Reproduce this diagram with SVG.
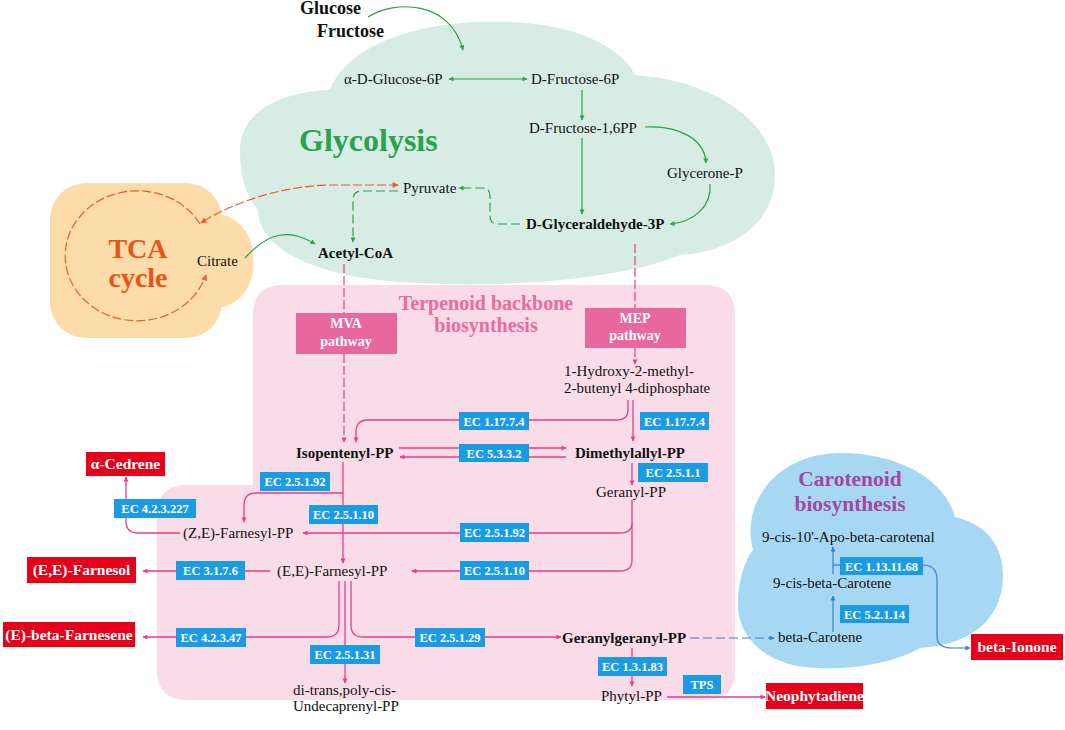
<svg xmlns="http://www.w3.org/2000/svg" width="1065" height="730" viewBox="0 0 1065 730">
<defs>
<style>
text{font-family:"Liberation Serif","Times New Roman",serif;fill:#111;}
.n{font-size:15px;}
.nb{font-size:15px;font-weight:bold;}
.ec{fill:#1b9be3;}
.ect{font-size:12.5px;font-weight:bold;fill:#fff;text-anchor:middle;}
.red{fill:#e60019;}
.redt{font-size:15.5px;font-weight:bold;fill:#fff;text-anchor:middle;}
.pw{fill:#e8679f;}
.pwt{font-size:14px;font-weight:bold;fill:#fff;text-anchor:middle;}
.p{stroke:#e63e8e;fill:none;stroke-width:1.3;}
.pd{stroke:#e63e8e;fill:none;stroke-width:1.2;stroke-dasharray:9 3;}
.g{stroke:#2ba24c;fill:none;stroke-width:1.2;}
.gd{stroke:#2ba24c;fill:none;stroke-width:1.2;stroke-dasharray:9 4;}
.od{stroke:#ef5b2b;fill:none;stroke-width:1.2;stroke-dasharray:9 3;}
.b{stroke:#3a7fcf;fill:none;stroke-width:1.2;}
.bd{stroke:#3a7fcf;fill:none;stroke-width:1.2;stroke-dasharray:9 4;}
</style>
<marker id="ap" viewBox="0 0 10 10" refX="9" refY="5" markerWidth="6" markerHeight="5" markerUnits="userSpaceOnUse" orient="auto-start-reverse"><path d="M0,0 L10,5 L0,10 z" fill="#e63e8e"/></marker>
<marker id="ag" viewBox="0 0 10 10" refX="9" refY="5" markerWidth="6" markerHeight="5" markerUnits="userSpaceOnUse" orient="auto-start-reverse"><path d="M0,0 L10,5 L0,10 z" fill="#2ba24c"/></marker>
<marker id="ao" viewBox="0 0 10 10" refX="9" refY="5" markerWidth="7" markerHeight="6" markerUnits="userSpaceOnUse" orient="auto-start-reverse"><path d="M0,0 L10,5 L0,10 z" fill="#ef5b2b"/></marker>
<marker id="ab" viewBox="0 0 10 10" refX="9" refY="5" markerWidth="6" markerHeight="5" markerUnits="userSpaceOnUse" orient="auto-start-reverse"><path d="M0,0 L10,5 L0,10 z" fill="#3a7fcf"/></marker>
</defs>
<rect width="1065" height="730" fill="#fff"/>

<!-- Background regions -->
<g id="glycolysis-region">
<path d="M240,150 C240,115 275,92 330,90 C350,40 430,20 500,22 C570,22 620,45 635,75 C710,80 775,120 775,175 C775,225 730,252 680,255 C620,280 500,288 420,283 C320,280 258,250 258,210 C245,195 240,175 240,150 Z" fill="#d6ece4"/>
<text x="299" y="151" style="font-size:32px;font-weight:bold;fill:#2ba24c">Glycolysis</text>
</g>
<g id="tca-region">
<rect x="50" y="183" width="172" height="155" rx="36" fill="#fcdca8"/>
<rect x="170" y="213" width="83" height="96" rx="42" fill="#fcdca8"/>
<text x="138" y="258" text-anchor="middle" style="font-size:28px;font-weight:bold;fill:#e8541c">TCA</text>
<text x="138" y="287" text-anchor="middle" style="font-size:28px;font-weight:bold;fill:#e8541c">cycle</text>
</g>
<g id="terpenoid-region">
<path d="M283,285 L705,285 Q735,285 735,315 L735,670 Q735,700 705,700 L187,700 Q157,700 157,670 L157,515 Q157,485 187,485 L253,485 L253,315 Q253,285 283,285 Z" fill="#f9dce8"/>
<text x="486" y="310" text-anchor="middle" style="font-size:20px;font-weight:bold;fill:#ea6aa1">Terpenoid backbone</text>
<text x="486" y="332" text-anchor="middle" style="font-size:20px;font-weight:bold;fill:#ea6aa1">biosynthesis</text>
</g>
<g id="carotenoid-region">
<path d="M753,550 C740,500 780,453 840,453 C900,453 945,480 955,517 C990,525 1003,550 1003,575 C1003,620 970,645 920,648 C900,660 860,670 820,668 C770,668 738,640 738,605 C738,580 745,560 753,550 Z" fill="#a6d8f4"/>
<text x="850" y="486" text-anchor="middle" style="font-size:21.5px;font-weight:bold;fill:#a3489f">Carotenoid</text>
<text x="850" y="511" text-anchor="middle" style="font-size:21.5px;font-weight:bold;fill:#a3489f">biosynthesis</text>
</g>

<!-- Connectors -->
<g id="connectors">
<path class="g" d="M368,17 C395,0 450,0 463,50" marker-end="url(#ag)"/>
<path class="g" d="M449,79 L527,79" marker-start="url(#ag)" marker-end="url(#ag)"/>
<path class="g" d="M582,90 L582,120" marker-end="url(#ag)"/>
<path class="g" d="M582,138 L582,214" marker-end="url(#ag)"/>
<path class="g" d="M645,127 C680,125 705,140 706,163" marker-end="url(#ag)"/>
<path class="g" d="M710,184 C712,205 695,222 670,224" marker-end="url(#ag)"/>
<path class="gd" d="M520,224 L498,224 Q490,224 490,216 L490,196 Q490,188 482,188 L459,188" marker-end="url(#ag)"/>
<path class="gd" d="M398,191 L362,191 Q353,191 353,200 L353,242" marker-end="url(#ag)"/>
<path class="g" d="M245,258 C268,232 290,228 315,244" marker-end="url(#ag)"/>
<path class="od" d="M398,185 L330,185 C280,186 232,203 201,223" marker-start="url(#ao)" marker-end="url(#ao)"/>
<path class="od" d="M200,224 A72,65 0 1 0 206,275" marker-end="url(#ao)"/>

<path class="pd" d="M344,264 L344,313"/>
<path class="pd" d="M344,354 L344,442" marker-end="url(#ap)"/>
<path class="pd" d="M635,244 L635,308"/>
<path class="pd" d="M635,348 L635,364" marker-end="url(#ap)"/>

<path class="p" d="M628,400 L628,410 Q628,420 616,420 L368,420 Q356,420 356,432 L356,442" marker-end="url(#ap)"/>
<path class="p" d="M633,400 L633,441" marker-end="url(#ap)"/>
<path class="p" d="M399,448 L566,448" marker-end="url(#ap)"/>
<path class="p" d="M566,457 L400,457" marker-end="url(#ap)"/>
<path class="p" d="M632,463 L632,485" marker-end="url(#ap)"/>
<path class="p" d="M632,500 L632,523 Q632,533 620,533 L303,533" marker-end="url(#ap)"/>
<path class="p" d="M632,523 L632,560 Q632,571 620,571 L412,571" marker-end="url(#ap)"/>
<path class="p" d="M343,462 L343,563" marker-end="url(#ap)"/>
<path class="p" d="M343,493 L256,493 Q244,493 244,505 L244,522" marker-end="url(#ap)"/>
<path class="p" d="M180,533 L138,533 Q126,533 126,521 L126,477" marker-end="url(#ap)"/>
<path class="p" d="M270,571 L143,571" marker-end="url(#ap)"/>
<path class="p" d="M339,581 L339,625 Q339,637 327,637 L143,637" marker-end="url(#ap)"/>
<path class="p" d="M345,581 L345,683" marker-end="url(#ap)"/>
<path class="p" d="M351,581 L351,625 Q351,637 363,637 L561,637" marker-end="url(#ap)"/>
<path class="p" d="M632,648 L632,686" marker-end="url(#ap)"/>
<path class="p" d="M667,697 L765,697" marker-end="url(#ap)"/>
<path class="bd" d="M690,638 L774,638" marker-end="url(#ab)"/>
<path class="b" d="M833,632 L833,596" marker-end="url(#ab)"/>
<path class="b" d="M833,574 L833,547" marker-end="url(#ab)"/>
<path class="b" d="M833,565 L840,565"/>
<path class="b" d="M923,565 Q937,565 937,580 L937,636 Q937,648 952,648 L970,648" marker-end="url(#ab)"/>
</g>

<!-- Nodes -->
<g id="n-glucose"><text x="300" y="14" style="font-size:18px;font-weight:bold">Glucose</text></g>
<g id="n-fructose"><text x="317" y="37" style="font-size:18px;font-weight:bold">Fructose</text></g>
<g id="n-g6p"><text class="n" x="344" y="84">α-D-Glucose-6P</text></g>
<g id="n-f6p"><text class="n" x="531" y="84">D-Fructose-6P</text></g>
<g id="n-f16pp"><text class="n" x="529" y="133">D-Fructose-1,6PP</text></g>
<g id="n-glycerone"><text class="n" x="667" y="178">Glycerone-P</text></g>
<g id="n-pyruvate"><text class="n" x="403" y="193">Pyruvate</text></g>
<g id="n-gap"><text class="nb" x="526" y="229">D-Glyceraldehyde-3P</text></g>
<g id="n-acetylcoa"><text class="nb" x="318" y="258">Acetyl-CoA</text></g>
<g id="n-citrate"><text class="n" x="197" y="266">Citrate</text></g>

<g id="n-mva"><rect class="pw" x="296" y="313" width="101" height="41"/><text class="pwt" x="346" y="328">MVA</text><text class="pwt" x="346" y="346">pathway</text></g>
<g id="n-mep"><rect class="pw" x="585" y="308" width="101" height="40"/><text class="pwt" x="635" y="323">MEP</text><text class="pwt" x="635" y="340">pathway</text></g>
<g id="n-hmbpp"><text class="n" x="564" y="376">1-Hydroxy-2-methyl-</text><text class="n" x="564" y="393">2-butenyl 4-diphosphate</text></g>
<g id="n-ipp"><text class="nb" x="296" y="458">Isopentenyl-PP</text></g>
<g id="n-dmapp"><text class="nb" x="575" y="458">Dimethylallyl-PP</text></g>
<g id="n-gpp"><text class="n" x="596" y="497">Geranyl-PP</text></g>
<g id="n-zefpp"><text class="n" x="183" y="538">(Z,E)-Farnesyl-PP</text></g>
<g id="n-eefpp"><text class="n" x="277" y="576">(E,E)-Farnesyl-PP</text></g>
<g id="n-ggpp"><text class="nb" x="562" y="643">Geranylgeranyl-PP</text></g>
<g id="n-undeca"><text class="n" x="293" y="695">di-trans,poly-cis-</text><text class="n" x="293" y="711">Undecaprenyl-PP</text></g>
<g id="n-phytyl"><text class="n" x="601" y="701">Phytyl-PP</text></g>

<g id="n-apo"><text class="n" x="762" y="542">9-cis-10'-Apo-beta-carotenal</text></g>
<g id="n-9cis"><text class="n" x="773" y="588">9-cis-beta-Carotene</text></g>
<g id="n-bcar"><text class="n" x="778" y="642">beta-Carotene</text></g>

<g id="p-cedrene"><rect class="red" x="86" y="452" width="79" height="24"/><text class="redt" x="125.5" y="469">α-Cedrene</text></g>
<g id="p-farnesol"><rect class="red" x="27" y="557" width="109" height="26"/><text class="redt" x="81.5" y="575">(E,E)-Farnesol</text></g>
<g id="p-farnesene"><rect class="red" x="3" y="622" width="132" height="25"/><text class="redt" x="69" y="640">(E)-beta-Farnesene</text></g>
<g id="p-neophytadiene"><rect class="red" x="766" y="683" width="97" height="26"/><text class="redt" x="814.5" y="701">Neophytadiene</text></g>
<g id="p-ionone"><rect class="red" x="971" y="634" width="92" height="26"/><text class="redt" x="1017" y="652">beta-Ionone</text></g>

<g id="ec1"><rect class="ec" x="459" y="412" width="70" height="18"/><text class="ect" x="494" y="425.5">EC 1.17.7.4</text></g>
<g id="ec2"><rect class="ec" x="640" y="412" width="69" height="18"/><text class="ect" x="674.5" y="425.5">EC 1.17.7.4</text></g>
<g id="ec3"><rect class="ec" x="459" y="444" width="70" height="18"/><text class="ect" x="494" y="457.5">EC 5.3.3.2</text></g>
<g id="ec4"><rect class="ec" x="638" y="463" width="70" height="19"/><text class="ect" x="673" y="477">EC 2.5.1.1</text></g>
<g id="ec5"><rect class="ec" x="260" y="472" width="70" height="19"/><text class="ect" x="295" y="486">EC 2.5.1.92</text></g>
<g id="ec6"><rect class="ec" x="309" y="505" width="69" height="19"/><text class="ect" x="343.5" y="519">EC 2.5.1.10</text></g>
<g id="ec7"><rect class="ec" x="114" y="499" width="82" height="19"/><text class="ect" x="155" y="513">EC 4.2.3.227</text></g>
<g id="ec8"><rect class="ec" x="460" y="523" width="69" height="19"/><text class="ect" x="494.5" y="537">EC 2.5.1.92</text></g>
<g id="ec9"><rect class="ec" x="460" y="561" width="69" height="19"/><text class="ect" x="494.5" y="575">EC 2.5.1.10</text></g>
<g id="ec10"><rect class="ec" x="176" y="561" width="69" height="19"/><text class="ect" x="210.5" y="575">EC 3.1.7.6</text></g>
<g id="ec11"><rect class="ec" x="176" y="628" width="70" height="19"/><text class="ect" x="211" y="642">EC 4.2.3.47</text></g>
<g id="ec12"><rect class="ec" x="415" y="628" width="70" height="19"/><text class="ect" x="450" y="642">EC 2.5.1.29</text></g>
<g id="ec13"><rect class="ec" x="310" y="645" width="70" height="19"/><text class="ect" x="345" y="659">EC 2.5.1.31</text></g>
<g id="ec14"><rect class="ec" x="598" y="657" width="69" height="19"/><text class="ect" x="632.5" y="671">EC 1.3.1.83</text></g>
<g id="ec15"><rect class="ec" x="683" y="675" width="38" height="19"/><text class="ect" x="702" y="689">TPS</text></g>
<g id="ec16"><rect class="ec" x="840" y="557" width="83" height="18"/><text class="ect" x="881.5" y="570.5">EC 1.13.11.68</text></g>
<g id="ec17"><rect class="ec" x="840" y="605" width="69" height="18"/><text class="ect" x="874.5" y="618.5">EC 5.2.1.14</text></g>
</svg>
